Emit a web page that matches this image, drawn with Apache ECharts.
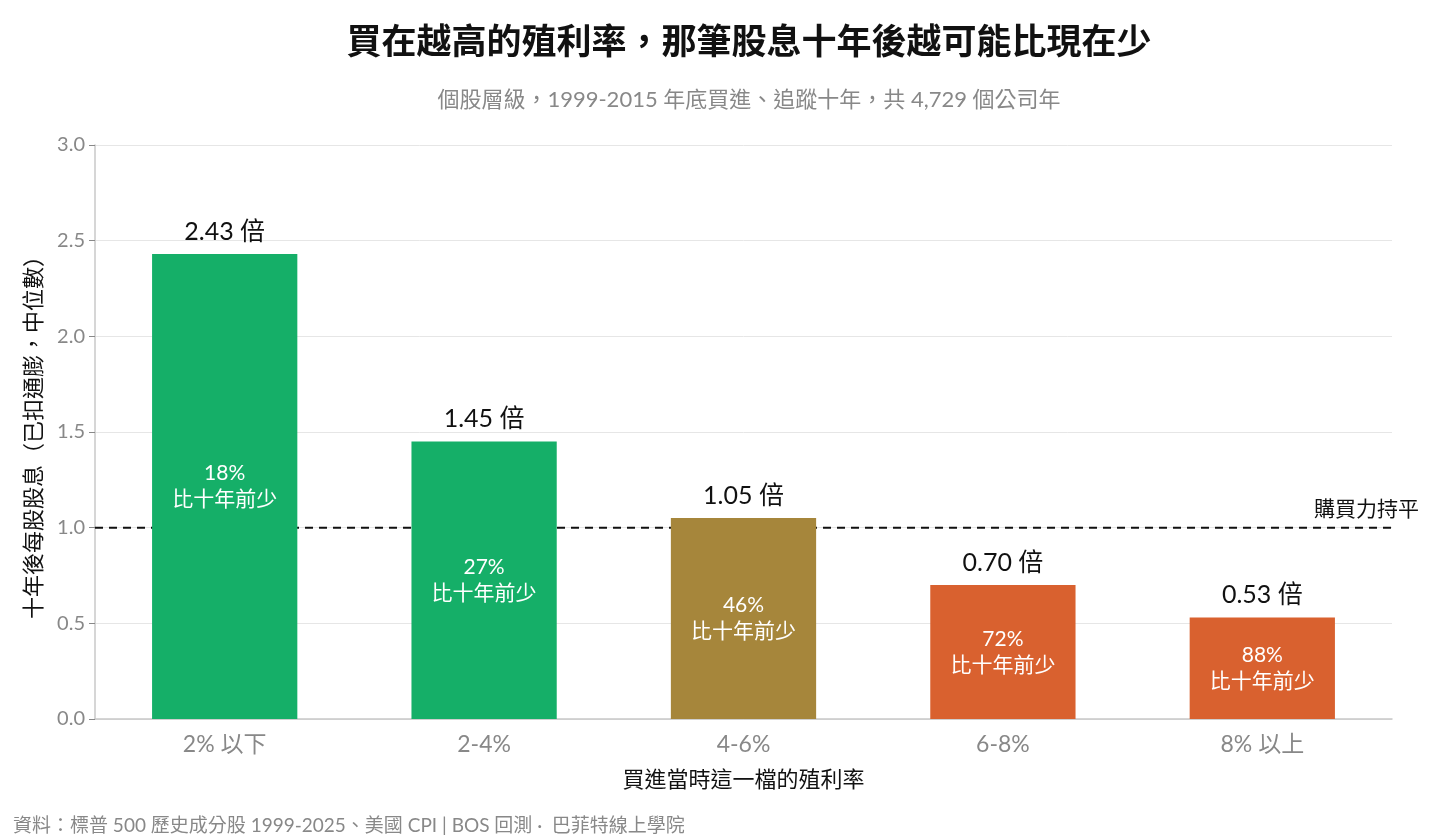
<!DOCTYPE html>
<html>
<head>
<meta charset="utf-8">
<script src="https://cdn.jsdelivr.net/npm/echarts@6/dist/echarts.min.js"></script>
<style>
html,body{margin:0;padding:0;background:#fff;}
#c{width:1440px;height:840px;}
</style>
</head>
<body>
<div id="c"></div>
<script>
const categories = ['2% 以下', '2-4%', '4-6%', '6-8%', '8% 以上'];
const multiples = [2.43, 1.45, 1.05, 0.70, 0.53];
const shareLess = [18, 27, 46, 72, 88];
const barColors = ['#15AF68', '#15AF68', '#A6863B', '#D9612F', '#D9612F'];
const yTicks = [0, 0.5, 1.0, 1.5, 2.0, 2.5, 3.0];
const parityLevel = 1.0;

const FONT = "Lato, 'Noto Sans CJK TC', sans-serif";
const chart = echarts.init(document.getElementById('c'));

chart.setOption({
  backgroundColor: '#fff',
  textStyle: { fontFamily: FONT },
  title: [
    { text: '買在越高的殖利率，那筆股息十年後越可能比現在少', left: 744, textAlign: 'center', top: 20,
      textStyle: { fontSize: 35, fontWeight: 'bold', color: '#111', fontFamily: FONT } },
    { text: '個股層級，1999-2015 年底買進、追蹤十年，共 4,729 個公司年', left: 744, textAlign: 'center', top: 84,
      textStyle: { fontSize: 22, fontWeight: 'normal', color: '#888', fontFamily: FONT } },
    { text: '資料：標普 500 歷史成分股 1999-2025、美國 CPI | BOS 回測 ·  巴菲特線上學院', left: 8, top: 811,
      textStyle: { fontSize: 19, fontWeight: 'normal', color: '#888', fontFamily: FONT } }
  ],
  grid: { left: 95, right: 48, top: 145, bottom: 121 },
  xAxis: [
    {
      type: 'category',
      data: categories,
      name: '買進當時這一檔的殖利率',
      nameLocation: 'middle',
      nameGap: 50,
      nameTextStyle: { fontSize: 22, color: '#111', fontFamily: FONT },
      axisLine: { lineStyle: { color: '#c8c8c8', width: 1.5 } },
      axisTick: { alignWithLabel: true, length: 6, lineStyle: { color: '#888' } },
      axisLabel: { fontSize: 23, color: '#888', margin: 14, fontFamily: FONT }
    },
    {
      type: 'value',
      min: 0,
      max: 1,
      show: false
    }
  ],
  yAxis: {
    type: 'value',
    min: yTicks[0],
    max: yTicks[yTicks.length - 1],
    interval: 0.5,
    name: '十年後每股股息（已扣通膨，中位數）',
    nameLocation: 'middle',
    nameGap: 50,
    nameTextStyle: { fontSize: 22, color: '#111', fontFamily: FONT },
    axisLine: { show: true, lineStyle: { color: '#c8c8c8', width: 1.5 } },
    axisTick: { show: true, length: 6, lineStyle: { color: '#888' } },
    axisLabel: { fontSize: 20, color: '#888', margin: 10, fontFamily: FONT,
      formatter: v => v.toFixed(1) },
    splitLine: { show: true, lineStyle: { color: '#e6e6e6', width: 1 } }
  },
  series: [
    {
      type: 'line',
      xAxisIndex: 1,
      zlevel: 0,
      z: 1,
      silent: true,
      symbol: 'none',
      lineStyle: { color: '#111', type: [8, 6], width: 2 },
      data: [[0, parityLevel], [1, parityLevel]],
      endLabel: { show: true, formatter: '購買力持平', fontSize: 21, color: '#111',
        fontFamily: FONT, offset: [-86, -18] }
    },
    {
      type: 'bar',
      xAxisIndex: 0,
      zlevel: 1,
      z: 10,
      barWidth: '56%',
      data: multiples.map((v, i) => ({ value: v, itemStyle: { color: barColors[i] } })),
      label: {
        show: true,
        position: 'top',
        distance: 10,
        fontSize: 25,
        color: '#111',
        fontFamily: FONT,
        formatter: p => p.value.toFixed(2) + ' 倍'
      }
    },
    {
      type: 'bar',
      xAxisIndex: 0,
      zlevel: 1,
      z: 11,
      barWidth: '56%',
      barGap: '-100%',
      silent: true,
      itemStyle: { color: 'rgba(0,0,0,0)' },
      data: multiples,
      label: {
        show: true,
        position: 'inside',
        fontSize: 21,
        lineHeight: 26,
        color: '#fff',
        fontFamily: FONT,
        formatter: p => shareLess[p.dataIndex] + '%\n比十年前少'
      }
    }
  ]
});
</script>
</body>
</html>
